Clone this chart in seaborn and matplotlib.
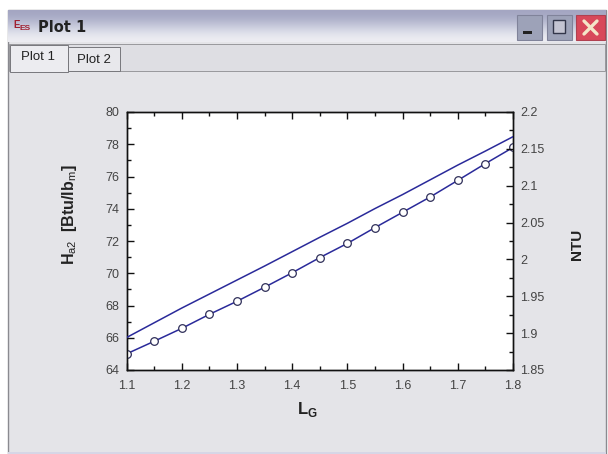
import numpy as np
import pandas as pd
import matplotlib
matplotlib.use("Agg")
import matplotlib.pyplot as plt
from matplotlib.patches import Rectangle
from matplotlib.ticker import MultipleLocator
import seaborn as sns

lg = [1.1, 1.15, 1.2, 1.25, 1.3, 1.35, 1.4, 1.45, 1.5, 1.55, 1.6, 1.65, 1.7, 1.75, 1.8]
ha2 = [65.0, 65.78, 66.58, 67.45, 68.26, 69.13, 70.03, 70.97, 71.85, 72.83, 73.78, 74.73, 75.76, 76.8, 77.8]
ntu = [1.894, 1.914, 1.934, 1.953, 1.972, 1.991, 2.0105, 2.030, 2.049, 2.069, 2.088, 2.108, 2.128, 2.147, 2.1665]

x_ticks = [1.1, 1.2, 1.3, 1.4, 1.5, 1.6, 1.7, 1.8]
left_ticks = [64, 66, 68, 70, 72, 74, 76, 78, 80]
right_ticks = [1.85, 1.9, 1.95, 2.0, 2.05, 2.1, 2.15, 2.2]
right_labels = ["1.85", "1.9", "1.95", "2", "2.05", "2.1", "2.15", "2.2"]

W, H = 608, 454
sns.set_theme(style="white")
plt.rcParams["font.family"] = ["Liberation Sans", "DejaVu Sans"]
plt.rcParams["mathtext.fontset"] = "custom"
plt.rcParams["mathtext.bf"] = "Liberation Sans:bold"
plt.rcParams["mathtext.rm"] = "Liberation Sans"

df = pd.DataFrame({"LG": lg, "Ha2": ha2, "NTU": ntu})

fig = plt.figure(figsize=(W / 100, H / 100), dpi=100, facecolor="white")


def box(x0, y0, x1, y1, **kw):
    # pixel box, y measured from the top of the picture
    fig.add_artist(Rectangle((x0 / W, 1 - y1 / H), (x1 - x0) / W, (y1 - y0) / H,
                             transform=fig.transFigure, **kw))


def gradient(x0, y0, x1, y1, stops):
    a = fig.add_axes([x0 / W, 1 - y1 / H, (x1 - x0) / W, (y1 - y0) / H], zorder=1)
    a.imshow(np.array(stops)[:, None, :], aspect="auto", interpolation="bicubic")
    a.axis("off")


# window body
box(8, 10, 606, 455, fc="#e4e4e8", ec="#8a8a90", lw=1, zorder=0)
box(8, 452, 606, 455, fc="#d6d6e6", ec="none", zorder=1)

# title bar
gradient(8, 10, 606, 42, [(0.64, 0.65, 0.76), (0.72, 0.73, 0.82), (0.84, 0.85, 0.90), (0.93, 0.93, 0.95)])
fig.text(38 / W, 1 - 27 / H, "Plot 1", fontsize=10.5, fontweight="bold", color="#222222",
         family="DejaVu Sans", va="center", ha="left", zorder=5)
fig.text(13 / W, 1 - 25 / H, "E", fontsize=7, color="#a02030", fontweight="bold", va="center", zorder=5)
fig.text(20 / W, 1 - 28 / H, "ES", fontsize=6, color="#a02030", fontweight="bold", va="center", zorder=5)

# window buttons
box(517, 15, 542, 40, fc="#9da2b8", ec="#80839a", lw=0.8, zorder=5)
box(523, 31, 532, 34, fc="#222222", ec="none", zorder=6)
box(547, 15, 572, 40, fc="#9da2b8", ec="#80839a", lw=0.8, zorder=5)
box(553, 20, 565, 33, fc="#c4c4d2", ec="#33364a", lw=1, zorder=6)
box(576, 15, 605, 40, fc="#d8485a", ec="#b04050", lw=0.8, zorder=5)
fig.add_artist(plt.Line2D([584 / W, 597 / W], [1 - 21 / H, 1 - 34 / H], color="#f4e6c8", lw=2.4, zorder=6))
fig.add_artist(plt.Line2D([584 / W, 597 / W], [1 - 34 / H, 1 - 21 / H], color="#f4e6c8", lw=2.4, zorder=6))

# tab strip
box(9, 44, 605, 71, fc="#dedee3", ec="#98989c", lw=0.7, zorder=2)
box(10, 45, 68, 72, fc="#ececf0", ec="#77777c", lw=0.7, zorder=3)
box(68, 47, 120, 71, fc="#e8e8ec", ec="#77777c", lw=0.7, zorder=3)
fig.text(38 / W, 1 - 57 / H, "Plot 1", fontsize=9.5, color="#222222", ha="center", va="center", zorder=5)
fig.text(94 / W, 1 - 60 / H, "Plot 2", fontsize=9.5, color="#222222", ha="center", va="center", zorder=5)

# plot
ax = fig.add_axes([126.5 / W, 1 - 370 / H, (513 - 126.5) / W, (370 - 112) / H], zorder=4)
ax.set_facecolor("white")
blue = "#2a2a9a"
sns.lineplot(data=df, x="LG", y="Ha2", ax=ax, color=blue, lw=1.1, marker="o", ms=5.5,
             mfc="white", mec="#30305a", mew=0.9, zorder=5)
ax.set_xlim(1.1, 1.8)
ax.set_ylim(64, 80)
ax.set_xticks(x_ticks)
ax.set_xticklabels([f"{v:g}" for v in x_ticks])
ax.set_yticks(left_ticks)
ax.xaxis.set_minor_locator(MultipleLocator(0.05))
ax.yaxis.set_minor_locator(MultipleLocator(1))

ax2 = ax.twinx()
sns.lineplot(data=df, x="LG", y="NTU", ax=ax2, color=blue, lw=1.1, zorder=5)
ax2.set_ylim(1.85, 2.2)
ax2.set_yticks(right_ticks)
ax2.set_yticklabels(right_labels)
ax2.yaxis.set_minor_locator(MultipleLocator(0.025))

for a in (ax, ax2):
    a.tick_params(which="major", direction="in", length=5, width=1, color="#111111",
                  labelsize=9, labelcolor="#444444", pad=5, top=a is ax, bottom=a is ax)
    a.tick_params(which="minor", direction="in", length=3, width=1, color="#111111", top=a is ax, bottom=a is ax)
    for s in a.spines.values():
        s.set_color("#111111")
        s.set_linewidth(1.0)
        s.set_visible(True)
ax.tick_params(axis="x", which="major", pad=7)

ax.set_xlabel(r"$\mathbf{L}_{\mathbf{G}}$", fontsize=12, color="#222222")
ax.xaxis.set_label_coords((307 - 126.5) / 386.5, -0.117)
ax.set_ylabel(r"$\mathbf{H}_{\mathrm{a2}}$  $\mathbf{[Btu/lb}_{\mathrm{m}}\mathbf{]}$", fontsize=11.5, color="#222222")
ax.yaxis.set_label_coords((79 - 126.5) / 386.5, (370 - 215) / 258)
ax2.set_ylabel("NTU", fontsize=11, fontweight="bold", color="#222222")
ax2.yaxis.set_label_coords((570 - 126.5) / 386.5, (370 - 244) / 258)

fig.savefig("out.png", dpi=100)
